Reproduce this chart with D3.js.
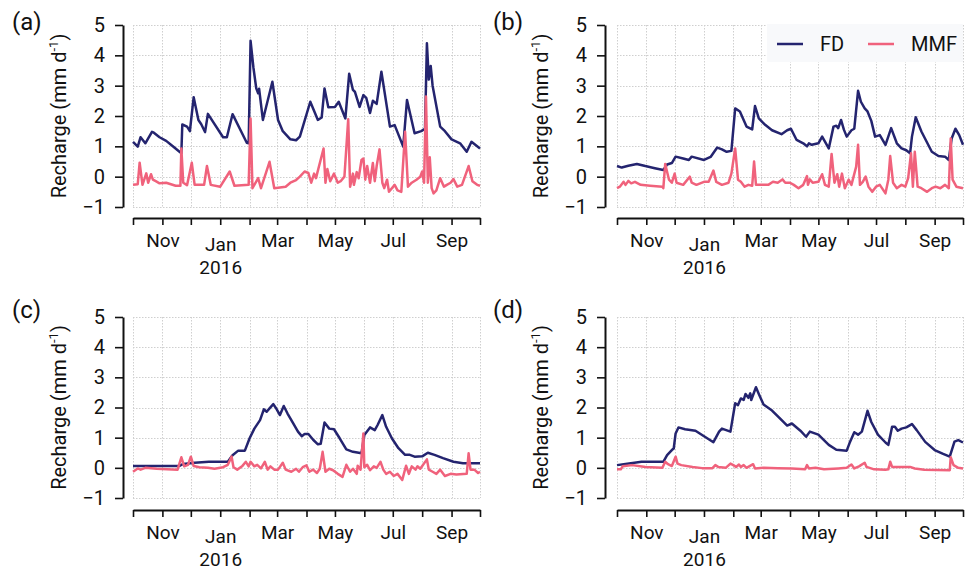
<!DOCTYPE html>
<html>
<head>
<meta charset="utf-8">
<script src="https://cdn.jsdelivr.net/npm/d3@7"></script>
<style>
  body { margin: 0; background: #fff; }
  svg { display: block; font-family: Roboto, "Noto Sans", sans-serif; }
</style>
</head>
<body>
<svg id="chart"></svg>
<script>
const width = 966;
const height = 571;

const startDate = new Date(2015, 9, 1);
const endDate = new Date(2016, 9, 1);
const yTicks = [-1, 0, 1, 2, 3, 4, 5];
const monthLabels = ["Nov", "Jan", "Mar", "May", "Jul", "Sep"];
const seriesNames = ["FD", "MMF"];
const seriesColors = ["#24246f", "#f0627c"];

// [days since 1 Oct 2015, recharge mm/d]
const fdA = [[0,1.15],[5,0.99],[8,1.3],[13,1.1],[20,1.48],[22,1.45],[28,1.3],[35,1.18],[42,1.0],[50,0.8],[51,0.77],[52,1.72],[57,1.65],[60,1.5],[64,2.62],[69,1.87],[72,1.73],[76,1.47],[79,2.07],[95,1.3],[99,1.3],[105,2.06],[120,1.12],[122,1.1],[124,4.48],[127,3.6],[130,2.91],[132,2.75],[133,2.9],[137,1.87],[147,3.13],[153,1.87],[158,1.5],[166,1.23],[172,1.2],[176,1.32],[187,2.47],[195,1.87],[199,1.95],[202,2.91],[206,2.29],[213,2.3],[217,2.47],[224,1.92],[228,3.39],[232,2.86],[234,2.8],[239,2.3],[243,2.69],[246,2.6],[250,2.1],[253,2.5],[257,2.4],[262,3.46],[271,1.65],[276,1.7],[285,0.99],[289,2.53],[297,1.43],[304,1.5],[308,1.58],[310,4.4],[312,3.2],[314,3.65],[316,3.0],[324,1.65],[329,1.5],[336,1.23],[345,1.1],[352,0.82],[357,1.15],[366,0.93]];
const mmfA = [[0,-0.27],[5,-0.25],[7,0.46],[10,-0.27],[14,0.11],[16,-0.2],[19,0.08],[21,-0.1],[24,-0.15],[28,-0.22],[35,-0.2],[45,-0.3],[50,-0.3],[51,0.93],[53,-0.2],[57,-0.28],[62,0.46],[65,-0.27],[75,-0.27],[78,0.35],[82,-0.27],[92,-0.33],[102,0.17],[107,-0.3],[122,-0.27],[124,1.92],[126,-0.38],[132,-0.05],[135,-0.38],[144,0.49],[149,-0.38],[161,-0.33],[166,-0.2],[172,-0.11],[176,0.0],[181,0.17],[185,0.12],[188,-0.2],[191,0.1],[193,-0.05],[201,0.93],[203,-0.2],[205,0.25],[208,-0.15],[212,0.1],[216,-0.2],[219,-0.15],[223,0.0],[227,1.89],[229,-0.33],[232,0.1],[233,-0.27],[236,0.15],[238,-0.05],[241,0.55],[243,0.6],[245,-0.1],[247,0.35],[250,-0.2],[253,0.45],[255,-0.15],[257,0.35],[260,0.9],[263,-0.2],[265,-0.38],[268,-0.1],[270,-0.5],[276,-0.27],[279,-0.45],[283,-0.5],[287,1.48],[290,-0.33],[294,-0.2],[299,-0.1],[303,0.0],[305,0.17],[307,-0.2],[309,2.64],[311,-0.2],[313,0.64],[315,-0.38],[317,-0.55],[320,-0.45],[324,-0.05],[328,-0.33],[331,-0.27],[335,-0.2],[338,-0.08],[342,-0.33],[347,-0.27],[354,0.35],[358,-0.15],[363,-0.27],[366,-0.3]];

const fdB = [[0,0.35],[5,0.3],[12,0.36],[21,0.42],[30,0.35],[40,0.28],[49,0.22],[53,0.4],[58,0.45],[62,0.66],[70,0.6],[76,0.55],[79,0.66],[92,0.55],[99,0.65],[106,0.96],[111,0.9],[116,0.82],[121,0.85],[125,2.25],[130,2.15],[137,1.65],[143,1.56],[146,2.33],[150,1.92],[157,1.7],[164,1.53],[174,1.4],[180,1.53],[184,1.58],[190,1.21],[197,1.1],[201,1.0],[203,1.1],[206,1.05],[213,1.1],[217,1.32],[224,0.93],[229,1.65],[232,1.68],[234,1.6],[237,1.87],[240,1.55],[243,1.32],[248,1.53],[251,1.58],[255,2.83],[258,2.47],[262,2.25],[265,2.15],[269,1.84],[273,1.32],[278,1.37],[284,1.05],[290,1.6],[296,1.1],[301,0.93],[306,0.87],[310,0.77],[312,1.32],[316,1.96],[322,1.49],[333,0.82],[340,0.68],[347,0.66],[351,0.55],[354,1.26],[358,1.58],[362,1.37],[366,1.05]];
const mmfB = [[0,-0.38],[3,-0.33],[7,-0.17],[9,-0.27],[12,-0.14],[15,-0.22],[19,-0.17],[25,-0.27],[35,-0.3],[48,-0.33],[49,-0.38],[51,0.42],[55,-0.1],[58,-0.2],[61,0.1],[63,-0.2],[70,-0.27],[77,0.0],[79,-0.2],[84,-0.27],[92,-0.17],[97,-0.17],[102,0.2],[105,-0.17],[111,-0.27],[118,-0.2],[121,0.1],[125,0.93],[128,-0.1],[131,-0.17],[135,-0.33],[139,-0.27],[143,-0.3],[145,0.5],[147,-0.27],[153,-0.27],[160,-0.27],[165,-0.17],[170,-0.2],[175,-0.09],[178,-0.2],[183,-0.2],[187,-0.27],[192,-0.38],[197,-0.27],[201,0.02],[202,-0.27],[204,-0.09],[207,-0.2],[213,-0.17],[217,0.08],[220,-0.27],[224,-0.33],[227,0.75],[230,-0.2],[233,0.08],[235,-0.33],[238,0.1],[241,-0.38],[245,-0.1],[248,-0.27],[253,0.33],[255,1.05],[257,-0.27],[260,-0.17],[263,0.0],[266,-0.33],[270,-0.5],[274,-0.33],[278,-0.27],[284,-0.55],[287,-0.1],[289,0.68],[292,-0.2],[296,-0.38],[301,-0.27],[305,-0.33],[308,-0.05],[311,0.77],[313,-0.33],[315,0.82],[318,-0.33],[322,-0.38],[328,-0.5],[333,-0.38],[337,-0.33],[342,-0.38],[347,-0.27],[351,-0.38],[353,1.26],[355,-0.1],[359,-0.33],[366,-0.38]];

const fdC = [[0,0.06],[49,0.06],[53,0.13],[65,0.17],[80,0.2],[100,0.2],[105,0.42],[111,0.57],[118,0.57],[123,0.98],[128,1.3],[134,1.58],[138,1.94],[141,1.86],[144,1.97],[148,2.11],[151,1.97],[155,1.75],[159,2.05],[163,1.8],[169,1.47],[174,1.2],[178,1.05],[181,1.12],[185,1.12],[190,0.93],[195,0.78],[198,0.8],[202,1.5],[207,1.3],[212,1.28],[218,0.98],[225,0.61],[232,0.53],[241,0.48],[244,1.09],[250,1.34],[255,1.25],[258,1.42],[263,1.75],[267,1.36],[273,0.98],[280,0.65],[287,0.43],[292,0.43],[297,0.37],[305,0.38],[311,0.5],[318,0.43],[327,0.32],[338,0.2],[348,0.15],[366,0.15]];
const mmfC = [[0,-0.13],[5,-0.02],[8,-0.06],[13,0.0],[25,-0.03],[47,-0.06],[51,0.35],[54,0.05],[58,0.1],[61,0.37],[64,0.06],[70,0.02],[79,0.0],[86,-0.03],[95,0.02],[100,0.1],[104,0.37],[106,0.02],[110,-0.06],[115,0.05],[119,0.2],[122,0.05],[124,0.2],[128,0.05],[131,0.1],[135,-0.02],[139,0.2],[142,-0.06],[145,0.05],[149,-0.06],[153,-0.06],[158,0.17],[161,-0.06],[167,-0.13],[172,-0.03],[175,-0.13],[179,0.02],[183,0.08],[186,-0.13],[190,-0.06],[194,-0.17],[197,-0.03],[200,0.53],[203,-0.13],[207,-0.03],[211,-0.08],[216,-0.2],[221,-0.3],[225,0.1],[229,-0.13],[232,-0.03],[236,-0.2],[237,0.07],[240,-0.06],[243,1.14],[244,0.02],[247,0.1],[250,-0.08],[254,0.05],[257,0.0],[261,0.2],[264,-0.06],[267,-0.2],[271,-0.13],[275,-0.27],[279,-0.2],[284,-0.4],[288,0.07],[291,-0.2],[294,0.05],[298,-0.06],[300,0.05],[303,-0.03],[310,0.28],[312,-0.06],[316,-0.13],[320,-0.2],[324,-0.06],[329,-0.27],[335,-0.2],[341,-0.22],[352,-0.2],[354,0.48],[356,-0.06],[360,-0.06],[364,-0.17],[366,-0.13]];

const fdD = [[0,0.09],[9,0.13],[26,0.2],[49,0.2],[53,0.42],[58,0.59],[60,0.64],[62,1.14],[65,1.34],[72,1.28],[83,1.23],[102,0.85],[108,1.2],[111,1.3],[120,1.2],[125,2.14],[128,2.08],[131,2.3],[134,2.25],[136,2.45],[139,2.32],[141,2.47],[142,2.25],[147,2.67],[150,2.45],[155,2.1],[164,1.9],[171,1.68],[180,1.4],[185,1.47],[194,1.23],[200,1.03],[204,1.2],[213,1.1],[224,0.76],[232,0.6],[243,0.57],[246,0.82],[251,1.18],[255,1.1],[259,1.2],[265,1.89],[269,1.52],[276,1.1],[284,0.84],[287,0.76],[291,1.36],[294,1.36],[297,1.23],[301,1.3],[306,1.34],[312,1.45],[317,1.25],[326,0.86],[336,0.59],[345,0.46],[352,0.37],[357,0.87],[361,0.92],[366,0.84]];
const mmfD = [[0,-0.05],[4,-0.05],[6,0.05],[16,0.09],[30,0.03],[48,0.0],[51,0.2],[54,0.12],[58,0.06],[62,0.37],[64,0.14],[68,0.09],[80,0.03],[90,-0.01],[101,-0.01],[104,0.09],[107,0.03],[115,0.0],[120,0.14],[123,0.09],[126,0.03],[129,0.11],[131,0.03],[134,0.09],[137,0.0],[144,0.12],[146,-0.02],[155,0.0],[170,-0.01],[185,-0.02],[199,-0.05],[201,0.09],[203,-0.02],[210,0.0],[219,-0.05],[234,-0.02],[243,0.0],[248,0.11],[251,-0.02],[256,0.05],[262,0.17],[264,0.03],[272,-0.05],[284,-0.06],[287,-0.05],[289,0.2],[291,0.03],[300,0.03],[310,0.03],[315,-0.02],[325,-0.06],[352,-0.08],[353,0.35],[356,0.09],[361,0.0],[366,-0.02]];

const panelLabels = ["(a)", "(b)", "(c)", "(d)"];
const panelSeries = [[fdA, mmfA], [fdB, mmfB], [fdC, mmfC], [fdD, mmfD]];

// layout of the four panels
const panels = [
  { left: 133, right: 480, top: 25, bottom: 207, xAxisY: 218, yAxisX: 123, labelX: 12, labelY: 30 },
  { left: 617, right: 963, top: 25, bottom: 207, xAxisY: 218, yAxisX: 605, labelX: 493, labelY: 30 },
  { left: 133, right: 480, top: 317, bottom: 498, xAxisY: 510, yAxisX: 123, labelX: 12, labelY: 318 },
  { left: 617, right: 963, top: 317, bottom: 498, xAxisY: 510, yAxisX: 605, labelX: 493, labelY: 318 },
];

const toDate = (d) => new Date(startDate.getTime() + d * 864e5);
const monthTicks = d3.timeMonth.range(startDate, d3.timeDay.offset(endDate, 1));
const fmtMonth = d3.timeFormat("%b");

const svg = d3.select("#chart").attr("width", width).attr("height", height);

panels.forEach((p, i) => {
  const x = d3.scaleTime().domain([startDate, endDate]).range([p.left, p.right]);
  const y = d3.scaleLinear().domain([-1, 5]).range([p.bottom, p.top]);
  const g = svg.append("g");

  // grid
  const grid = g.append("g").attr("stroke", "#cfcfcf").attr("stroke-width", 1).attr("stroke-dasharray", "1.5,1.5");
  grid.selectAll(".vg").data(monthTicks).enter().append("line")
    .attr("x1", (d) => Math.round(x(d)) + 0.5).attr("x2", (d) => Math.round(x(d)) + 0.5)
    .attr("y1", p.top).attr("y2", p.bottom);
  grid.selectAll(".hg").data(yTicks).enter().append("line")
    .attr("x1", p.left).attr("x2", p.right)
    .attr("y1", (d) => Math.round(y(d)) + 0.5).attr("y2", (d) => Math.round(y(d)) + 0.5);

  // y axis
  const yAxis = g.append("g")
    .attr("transform", `translate(${p.yAxisX},0)`)
    .call(d3.axisLeft(y).tickValues(yTicks).tickFormat(d3.format("d"))
      .tickSize(8).tickSizeOuter(0).tickPadding(10));
  yAxis.select(".domain").attr("stroke", "#111").attr("stroke-width", 2);
  yAxis.selectAll(".tick line").attr("stroke", "#111").attr("stroke-width", 1.6);
  yAxis.selectAll("text").attr("font-size", 20).attr("fill", "#111").attr("font-family", "Roboto");

  // x axis
  const xAxis = g.append("g")
    .attr("transform", `translate(0,${p.xAxisY})`)
    .call(d3.axisBottom(x).tickValues(monthTicks).tickSize(7).tickSizeOuter(0)
      .tickFormat((d) => (monthLabels.includes(fmtMonth(d)) ? fmtMonth(d) : "")));
  xAxis.select(".domain").attr("stroke", "#111").attr("stroke-width", 2);
  xAxis.selectAll(".tick line").attr("stroke", "#111").attr("stroke-width", 1.6);
  xAxis.selectAll("text")
    .attr("font-size", 19).attr("fill", "#111").attr("font-family", "Roboto")
    .attr("dy", null).attr("y", 29)
    .each(function (d) {
      if (fmtMonth(d) === "Jan") {
        const t = d3.select(this).text(null).attr("y", null);
        t.append("tspan").attr("x", 0).attr("y", 33).text("Jan");
        t.append("tspan").attr("x", 0).attr("y", 56).text(d.getFullYear());
      }
    });

  // y label
  const yl = g.append("text")
    .attr("transform", `translate(${p.yAxisX - 57},${(p.top + p.bottom) / 2}) rotate(-90)`)
    .attr("text-anchor", "middle").attr("font-size", 20).attr("fill", "#111")
    .text("Recharge (mm d");
  yl.append("tspan").attr("font-size", 13).attr("dy", -8).text("-1");
  yl.append("tspan").attr("dy", 8).text(")");

  // panel label
  g.append("text").attr("x", p.labelX).attr("y", p.labelY)
    .attr("font-size", 24).attr("fill", "#111").text(panelLabels[i]);

  // lines
  const line = d3.line().x((d) => x(toDate(d[0]))).y((d) => y(d[1]));
  panelSeries[i].forEach((s, k) => {
    g.append("path").datum(s)
      .attr("fill", "none").attr("stroke", seriesColors[k]).attr("stroke-width", 2.5)
      .attr("stroke-linejoin", "round").attr("d", line);
  });

  // legend in panel (b)
  if (i === 1) {
    const lg = g.append("g").attr("transform", `translate(${p.right - 196},${p.top - 1})`);
    lg.append("rect").attr("width", 196).attr("height", 38).attr("fill", "#f8f9fb");
    seriesNames.forEach((name, k) => {
      const ox = k * 91;
      lg.append("line").attr("x1", 10 + ox).attr("x2", 36 + ox).attr("y1", 20).attr("y2", 20)
        .attr("stroke", seriesColors[k]).attr("stroke-width", 2.5);
      lg.append("text").attr("x", 53 + ox).attr("y", 27).attr("font-size", 20).attr("fill", "#111").text(name);
    });
  }
});
</script>
</body>
</html>
